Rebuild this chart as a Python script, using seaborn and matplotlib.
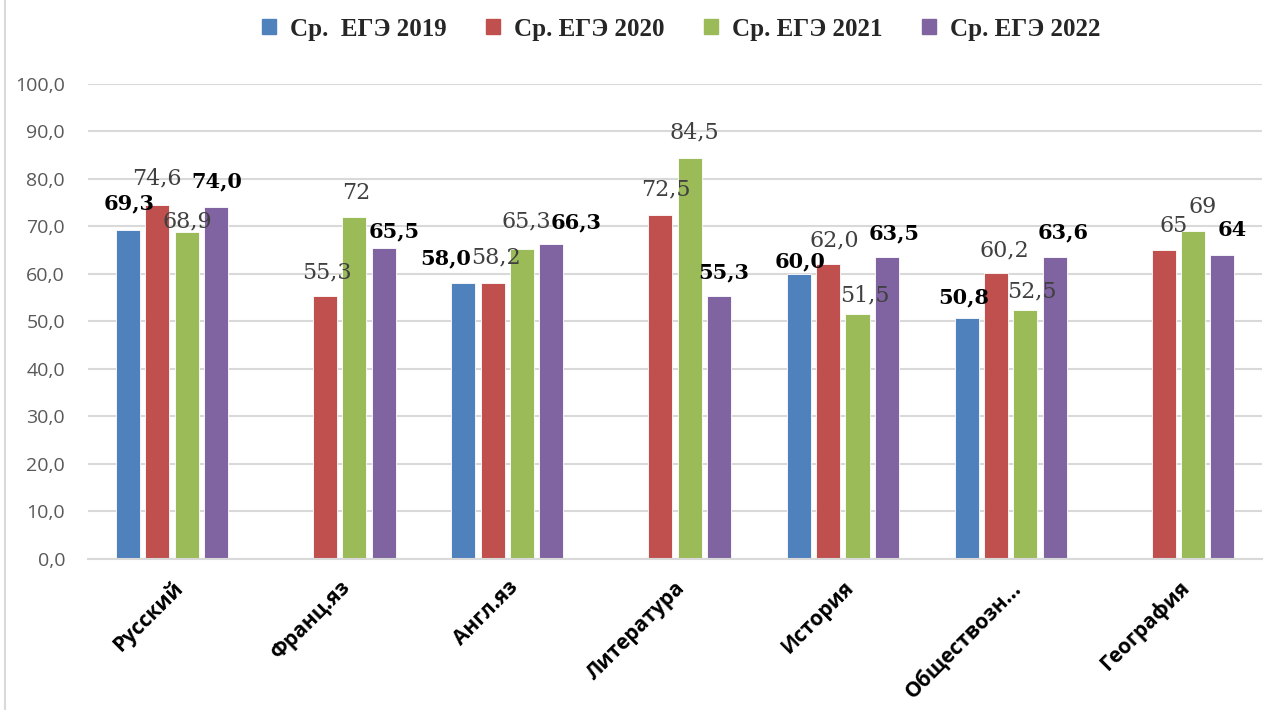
import matplotlib
matplotlib.use("Agg")
import matplotlib.pyplot as plt
import numpy as np
import pandas as pd
import seaborn as sns
from matplotlib.lines import Line2D

# Data
subjects = ["Русский", "Франц.яз", "Англ.яз", "Литература", "История", "Обществозн...", "География"]
series = ["Ср.  ЕГЭ 2019", "Ср. ЕГЭ 2020", "Ср. ЕГЭ 2021", "Ср. ЕГЭ 2022"]
ege_2019 = [69.3, np.nan, 58.0, np.nan, 60.0, 50.8, np.nan]
ege_2020 = [74.6, 55.3, 58.2, 72.5, 62.0, 60.2, 65.0]
ege_2021 = [68.9, 72.0, 65.3, 84.5, 51.5, 52.5, 69.0]
ege_2022 = [74.0, 65.5, 66.3, 55.3, 63.5, 63.6, 64.0]
labels_2019 = ["69,3", "", "58,0", "", "60,0", "50,8", ""]
labels_2020 = ["74,6", "55,3", "58,2", "72,5", "62,0", "60,2", "65"]
labels_2021 = ["68,9", "72", "65,3", "84,5", "51,5", "52,5", "69"]
labels_2022 = ["74,0", "65,5", "66,3", "55,3", "63,5", "63,6", "64"]
y_ticks = [0, 10, 20, 30, 40, 50, 60, 70, 80, 90, 100]

values = [ege_2019, ege_2020, ege_2021, ege_2022]
labels = [labels_2019, labels_2020, labels_2021, labels_2022]

# layout: label centre offsets from the bar top (pixels), hand placed like the original
label_offsets = [
    [(1, 26), None, (-18, 25), None, (1, 13), (-3, 20), None],
    [(0, 26), (2, 24), (3, 25), (5, 25), (6, 24), (8, 23), (10, 24)],
    [(1, 10), (2, 24), (4, 27), (5, 25), (7, 19), (7, 18), (10, 24)],
    [(1, 26), (11, 16), (25, 22), (5, 24), (7, 24), (9, 25), (10, 25)],
]
colors = ["#4f81bd", "#c0504d", "#9bbb59", "#8064a2"]

df = pd.DataFrame({
    "subject": subjects * 4,
    "series": [s for s in series for _ in subjects],
    "value": ege_2019 + ege_2020 + ege_2021 + ege_2022,
})

sns.set_style("white")
plt.rcParams["font.family"] = ["DejaVu Sans"]

fig = plt.figure(figsize=(12.66, 7.10), dpi=100)
ax = fig.add_axes([0.0695, 0.2127, 0.9275, 0.669])

sns.barplot(data=df, x="subject", y="value", hue="series", hue_order=series,
            order=subjects, palette=colors, saturation=1, width=0.70, gap=0.18,
            edgecolor="white", linewidth=0.6, ax=ax, legend=False)

# data labels
px = 72 / fig.dpi
for i, cont in enumerate(ax.containers):
    bold = i in (0, 3)
    offs = [o for v, o in zip(values[i], label_offsets[i]) if not np.isnan(v)]
    labs = [l for v, l in zip(values[i], labels[i]) if not np.isnan(v)]
    for bar, lab, (dx, dy) in zip(cont, labs, offs):
        ax.annotate(lab, (bar.get_x() + bar.get_width() / 2, bar.get_height()),
                    xytext=(dx * px, dy * px), textcoords="offset points",
                    ha="center", va="center", family="DejaVu Serif",
                    fontsize=15 if bold else 16,
                    fontweight="bold" if bold else "normal",
                    color="#000000" if bold else "#404040")

ax.set_ylim(0, 100)
ax.set_xlim(-0.5, len(subjects) - 0.5)
ax.set_yticks(y_ticks)
ax.set_yticklabels([f"{t:.1f}".replace(".", ",") for t in y_ticks],
                   fontsize=14, color="#595959", family="Open Sans")
ax.tick_params(axis="y", length=0, pad=16.5)
ax.tick_params(axis="x", length=0, pad=13)
plt.setp(ax.get_xticklabels(), rotation=45, ha="right", rotation_mode="anchor",
         fontsize=15, fontweight="bold", family="Open Sans", color="#000000")
ax.set_xlabel("")
ax.set_ylabel("")
ax.grid(axis="y", color="#d9d9d9", linewidth=1.5)
ax.set_axisbelow(True)
for s in ["top", "right", "left"]:
    ax.spines[s].set_visible(False)
ax.spines["bottom"].set_color("#d9d9d9")
ax.spines["bottom"].set_linewidth(1.5)

handles = [plt.Rectangle((0, 0), 1, 1, color=c) for c in colors]
fig.legend(handles, series, loc="center", bbox_to_anchor=(0.538, 0.959), ncol=4,
           frameon=False, handlelength=0.55, handleheight=0.55, handletextpad=0.55,
           columnspacing=1.6,
           prop={"family": "Liberation Serif", "weight": "bold", "size": 18})

# chart frame line on the left
fig.add_artist(Line2D([0.004, 0.004], [0, 1], color="#d9d9d9", linewidth=1.5,
                      transform=fig.transFigure))

fig.savefig("out.png", dpi=100)
